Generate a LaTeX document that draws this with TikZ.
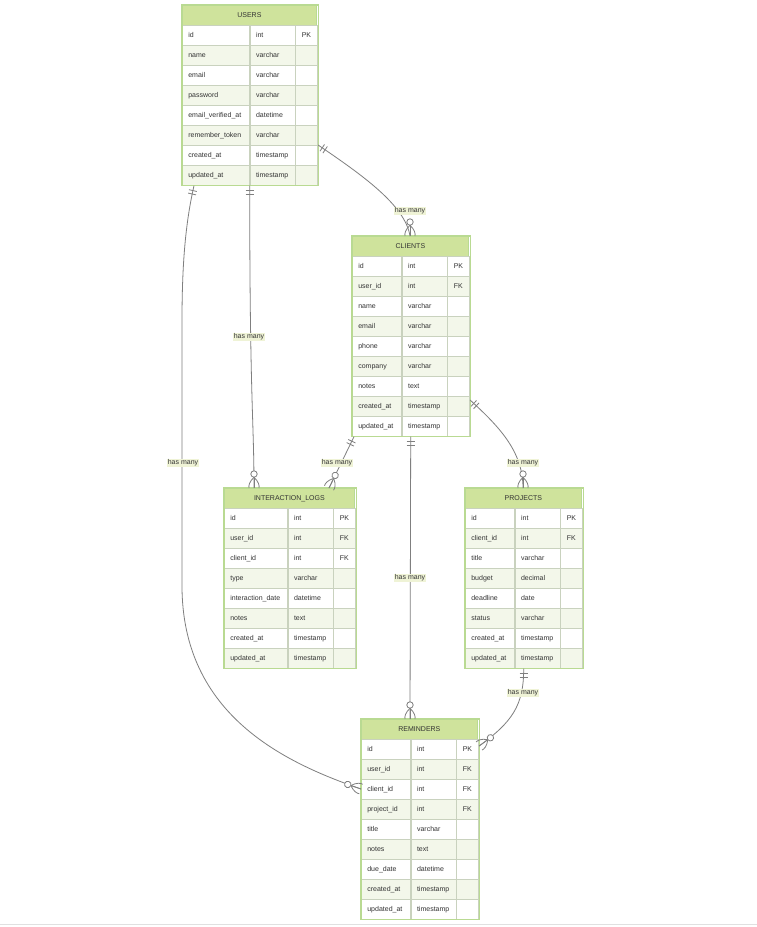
\documentclass[tikz,border=0pt]{standalone}
\usepackage{fontspec}
\setmainfont{Liberation Sans}
\usetikzlibrary{calc,fit}

\definecolor{headfill}{HTML}{CFE39C}
\definecolor{rowalt}{HTML}{F3F7EA}
\definecolor{frame}{HTML}{B9DA92}
\definecolor{cellline}{HTML}{C9D2BE}
\definecolor{ink}{HTML}{333333}
\definecolor{wire}{HTML}{7F7F7F}
\definecolor{tagfill}{HTML}{EFF3D6}

\tikzset{
  erhead/.style={draw=frame, line width=0.8pt, fill=headfill, minimum height=20pt,
    inner sep=0pt, anchor=north west, font=\fontsize{7}{8}\selectfont, text=ink},
  ercell/.style={draw=cellline, line width=0.7pt, minimum height=20pt, inner ysep=0pt,
    inner xsep=6pt, anchor=north west, align=left, font=\fontsize{7}{8}\selectfont,
    text=ink, text height=5pt, text depth=1.5pt},
  erframe/.style={draw=frame, line width=1.1pt, inner sep=0pt},
  rel/.style={draw=wire, line width=0.8pt},
  reltag/.style={fill=tagfill, inner sep=1pt, font=\fontsize{7}{8}\selectfont, text=ink},
}

% entity table: name, left, top, widths of the three columns, title, rows a/b/c
\newcommand{\erentity}[8]{%
  \pgfmathsetmacro{\erwall}{#4+#5+#6}%
  \node[erhead, minimum width=\erwall pt] (#1-h) at (#2,#3) {#7};
  \pgfmathsetmacro{\erwa}{#4-12}%
  \pgfmathsetmacro{\erwb}{#5-12}%
  \pgfmathsetmacro{\erwc}{#6-12}%
  \foreach [count=\i] \fa/\fb/\fc in {#8} {
    \pgfmathsetmacro{\yy}{#3+20*\i}
    \ifodd\i\relax\def\rowfill{white}\else\def\rowfill{rowalt}\fi
    \node[ercell, fill=\rowfill, text width=\erwa pt] (#1-\i-a) at (#2,\yy) {\fa};
    \node[ercell, fill=\rowfill, text width=\erwb pt] (#1-\i-b) at (#1-\i-a.north east) {\fb};
    \node[ercell, fill=\rowfill, text width=\erwc pt] (#1-\i-c) at (#1-\i-b.north east) {\fc};
    \xdef\erlast{\i}
  }
  \node[erframe, fit=(#1-h)(#1-\erlast-c)] (#1) {};
}

% "exactly one" end: two bars across the line; #2 = outward direction
\newcommand{\markone}[2]{%
  \begin{scope}[shift={(#1)}, rotate=#2]
    \draw[rel] (5pt,-4pt) -- (5pt,4pt) (8.5pt,-4pt) -- (8.5pt,4pt);
  \end{scope}}

% "zero or many" end: circle and crow's foot; #2 = outward direction
\newcommand{\markmany}[2]{%
  \begin{scope}[shift={(#1)}, rotate=#2]
    \draw[rel] (10.8pt,0pt) -- (0pt,0pt);
    \draw[rel] (10.8pt,0pt) .. controls (6pt,5pt) and (2pt,5.5pt) .. (0pt,5pt);
    \draw[rel] (10.8pt,0pt) .. controls (6pt,-5pt) and (2pt,-5.5pt) .. (0pt,-5pt);
    \draw[rel, fill=white] (14pt,0pt) circle[radius=3.2pt];
  \end{scope}}

\begin{document}
\begin{tikzpicture}[x=1pt, y=-1pt]
\fill[white] (0,0) rectangle (757,927);
\useasboundingbox (0,0) rectangle (757,927);
\draw[black!12, line width=0.8pt] (0,924.5) -- (757,924.5);

% ---------- entities ----------
\erentity{users}{182}{5}{67}{45}{22}{USERS}{
  id/int/PK, name/varchar/, email/varchar/, password/varchar/,
  email\_verified\_at/datetime/, remember\_token/varchar/,
  created\_at/timestamp/, updated\_at/timestamp/}

\erentity{clients}{352}{236}{49}{45}{22}{CLIENTS}{
  id/int/PK, user\_id/int/FK, name/varchar/, email/varchar/, phone/varchar/,
  company/varchar/, notes/text/, created\_at/timestamp/, updated\_at/timestamp/}

\erentity{logs}{224}{488}{63}{45}{22}{INTERACTION\_LOGS}{
  id/int/PK, user\_id/int/FK, client\_id/int/FK, type/varchar/,
  interaction\_date/datetime/, notes/text/, created\_at/timestamp/,
  updated\_at/timestamp/}

\erentity{projects}{465}{488}{49}{45}{22}{PROJECTS}{
  id/int/PK, client\_id/int/FK, title/varchar/, budget/decimal/,
  deadline/date/, status/varchar/, created\_at/timestamp/, updated\_at/timestamp/}

\erentity{reminders}{361}{719}{49}{45}{22}{REMINDERS}{
  id/int/PK, user\_id/int/FK, client\_id/int/FK, project\_id/int/FK,
  title/varchar/, notes/text/, due\_date/datetime/, created\_at/timestamp/,
  updated\_at/timestamp/}

% ---------- connector end points ----------
\coordinate (u-c) at (users-7-c.north east);
\coordinate (c-u) at ($(clients-h.north west)+(58,0)$);
\coordinate (u-l) at (users-8-b.south west);
\coordinate (l-u) at ($(logs-h.north west)+(30,0)$);
\coordinate (u-r) at ($(users-8-a.south west)+(12,0)$);
\coordinate (r-u) at ($(reminders-3-a.north west)+(0,10)$);
\coordinate (c-l) at ($(clients-9-a.south west)+(2,0)$);
\coordinate (l-c) at ($(logs-h.north west)+(105,0)$);
\coordinate (c-p) at ($(clients-8-c.north east)+(0,4)$);
\coordinate (p-c) at ($(projects-h.north west)+(58,0)$);
\coordinate (c-r) at ($(clients-9-b.south west)+(9,0)$);
\coordinate (r-c) at ($(reminders-h.north west)+(49,0)$);
\coordinate (p-r) at ($(projects-8-b.south west)+(9,0)$);
\coordinate (r-p) at ($(reminders-1-c.north east)+(0,7)$);

% ---------- relationships ----------
\draw[rel] (u-c) .. controls +(44,30) and +(-5,-31) .. (c-u);
\draw[rel] (u-l) .. controls +(0,215) and +(0,-68) .. (l-u);
\draw[rel] (u-r) .. controls +(-8,35) and +(0,-60) .. ++(-12,135)
  -- ++(0,265) .. controls +(0,130) and +(-75,-26) .. (r-u);
\draw[rel] (c-l) -- (l-c);
\draw[rel] (c-p) .. controls +(27,25) and +(0,-38) .. (p-c);
\draw[rel] (c-r) -- (r-c);
\draw[rel] (p-r) .. controls +(0,37) and +(33,-24) .. (r-p);

\markone{u-c}{-34}   \markmany{c-u}{90}
\markone{u-l}{270}   \markmany{l-u}{90}
\markone{u-r}{257}   \markmany{r-u}{161}
\markone{c-l}{244}   \markmany{l-c}{64}
\markone{c-p}{-43}   \markmany{p-c}{90}
\markone{c-r}{270}   \markmany{r-c}{90}
\markone{p-r}{270}   \markmany{r-p}{36}

% ---------- relationship labels ----------
\node[reltag] (t1) at (410,211) {has many};
\node[reltag] (t2) at (249,337) {has many};
\node[reltag] (t3) at (183,463) {has many};
\node[reltag] (t4) at (337,463) {has many};
\node[reltag] (t5) at (523,463) {has many};
\node[reltag] (t6) at (410,578) {has many};
\node[reltag] (t7) at (523,693) {has many};
\end{tikzpicture}
\end{document}
